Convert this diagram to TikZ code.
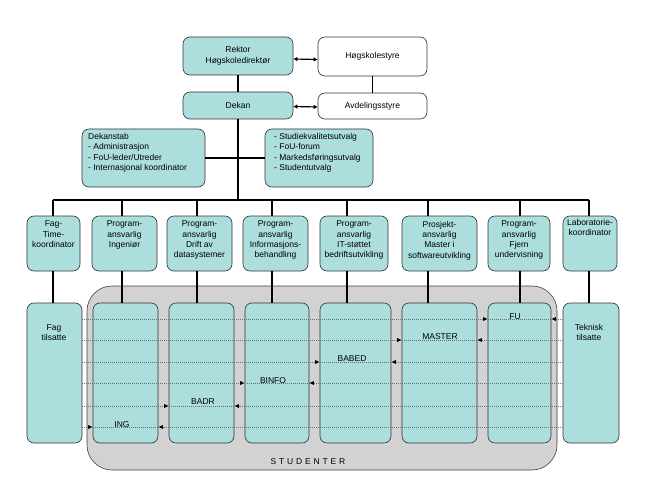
\documentclass[tikz,border=0pt]{standalone}
\usepackage{fontspec}
\setmainfont{Liberation Sans}
\usetikzlibrary{arrows.meta}
\definecolor{cyanfill}{RGB}{172,222,222}
\definecolor{stud}{RGB}{210,210,210}
\definecolor{lvlgray}{RGB}{110,110,110}
\begin{document}
\begin{tikzpicture}[x=1pt,y=-1pt,
  font=\fontsize{8.5}{10.4}\selectfont,
  box/.style={draw=black!80, line width=0.6pt, rounded corners=7pt, fill=cyanfill, inner sep=0pt},
  wbox/.style={box, fill=white},
  conn/.style={line width=1.8pt, black},
  dbl/.style={line width=1.2pt, {Latex[length=4pt,width=4.5pt]}-{Latex[length=4pt,width=4.5pt]}},
  txt/.style={align=center, inner sep=0pt},
  ltxt/.style={align=left, inner sep=0pt, anchor=north west},
  lvl/.style={draw=lvlgray, line width=0.6pt, dash pattern=on 1pt off 1pt},
  tipr/.style={lvl, -{Latex[length=4.5pt,width=4pt,color=black]}}
]
\useasboundingbox (0,0) rectangle (649,487);

% top level
\node[box, txt, minimum width=110pt, minimum height=38pt] (rektor) at (238,56) {Rektor\\Høgskoledirektør};
\node[wbox, txt, minimum width=109pt, minimum height=39pt] (hstyre) at (372.5,56.5) {Høgskolestyre};
\node[box, txt, minimum width=110pt, minimum height=27pt] (dekan) at (238,105.5) {Dekan};
\node[wbox, txt, minimum width=109pt, minimum height=26pt] (avd) at (372.5,106) {Avdelingsstyre};

\draw[conn] (rektor) -- (dekan);
\draw[conn] (hstyre) -- (avd);
\draw[dbl] ([yshift=-3pt]rektor.east) -- ([yshift=-3pt]hstyre.west);
\draw[dbl] ([yshift=-1pt]dekan.east) -- ([yshift=-1pt]avd.west);

% staff boxes
\node[box, minimum width=123pt, minimum height=58pt] (dstab) at (143.5,158) {};
\node[ltxt] (dstabt) at (88,133) {Dekanstab\\- Administrasjon\\- FoU-leder/Utreder\\- Internasjonal koordinator};
\node[box, minimum width=108pt, minimum height=58pt] (utv) at (319,158) {};
\node[ltxt] (utvt) at (274,133) {- Studiekvalitetsutvalg\\- FoU-forum\\- Markedsføringsutvalg\\- Studentutvalg};

\coordinate (bus) at (237,200);
\draw[conn] (dekan.south) -- (dekan.south |- bus);
\draw[conn] (dstab.east) -- (utv.west);

% second row boxes
\node[box, minimum width=53pt, minimum height=55pt] (t1) at (53.5,243.5) {};
\node[box, minimum width=65pt, minimum height=55pt] (t2) at (124.5,243.5) {};
\node[box, minimum width=65pt, minimum height=55pt] (t3) at (199.5,243.5) {};
\node[box, minimum width=65pt, minimum height=55pt] (t4) at (275.5,243.5) {};
\node[box, minimum width=68pt, minimum height=55pt] (t5) at (354,243.5) {};
\node[box, minimum width=75pt, minimum height=55pt] (t6) at (439.5,243.5) {};
\node[box, minimum width=62pt, minimum height=55pt] (t7) at (519,243.5) {};
\node[box, minimum width=54pt, minimum height=55pt] (t8) at (590,243.5) {};
\node[txt, anchor=north] (t1t) at ([yshift=-5pt]t1.north) {Fag-\\Time-\\koordinator};
\node[txt, anchor=north] (t2t) at ([yshift=-5pt]t2.north) {Program-\\ansvarlig\\Ingeniør};
\node[txt, anchor=north] (t3t) at ([yshift=-5pt]t3.north) {Program-\\ansvarlig\\Drift av\\datasystemer};
\node[txt, anchor=north] (t4t) at ([yshift=-5pt]t4.north) {Program-\\ansvarlig\\Informasjons-\\behandling};
\node[txt, anchor=north] (t5t) at ([yshift=-5pt]t5.north) {Program-\\ansvarlig\\IT-støttet\\bedriftsutvikling};
\node[txt, anchor=north] (t6t) at ([yshift=-5pt]t6.north) {Prosjekt-\\ansvarlig\\Master i\\softwareutvikling};
\node[txt, anchor=north] (t7t) at ([yshift=-5pt]t7.north) {Program-\\ansvarlig\\Fjern\\undervisning};
\node[txt, anchor=north] (t8t) at ([yshift=-3pt]t8.north) {Laboratorie-\\koordinator};

% students area
\node[draw=black!75, line width=0.6pt, fill=stud, rounded corners=25pt, minimum width=470pt, minimum height=184pt, inner sep=0pt] (studs) at (322,378) {};
\node[txt] (studt) at (308,462) {S\,\,T\,\,U\,\,D\,\,E\,\,N\,\,T\,\,E\,\,R};

% bottom boxes
\node[box, minimum width=55pt, minimum height=140pt] (fagt) at (54.5,373) {};
\node[box, minimum width=65pt, minimum height=140pt] (ing) at (125.5,373) {};
\node[box, minimum width=65pt, minimum height=140pt] (badr) at (201.5,373) {};
\node[box, minimum width=64pt, minimum height=140pt] (binfo) at (277,373) {};
\node[box, minimum width=71pt, minimum height=140pt] (babed) at (355.5,373) {};
\node[box, minimum width=75pt, minimum height=140pt] (master) at (439.5,373) {};
\node[box, minimum width=63pt, minimum height=140pt] (fu) at (519.5,373) {};
\node[box, minimum width=56pt, minimum height=140pt] (tekn) at (591,373) {};

% bus and drops
\coordinate (d1) at (53,200);
\coordinate (d2) at (122,200);
\coordinate (d3) at (197,200);
\coordinate (d4) at (272,200);
\coordinate (d5) at (347,200);
\coordinate (d6) at (428,200);
\coordinate (d7) at (520,200);
\coordinate (d8) at (589,200);
\draw[conn] (d1) -- (d8);
\draw[conn] (d1) -- (d1 |- t1.north);
\draw[conn] (d2) -- (d2 |- t2.north);
\draw[conn] (d3) -- (d3 |- t3.north);
\draw[conn] (d4) -- (d4 |- t4.north);
\draw[conn] (d5) -- (d5 |- t5.north);
\draw[conn] (d6) -- (d6 |- t6.north);
\draw[conn] (d7) -- (d7 |- t7.north);
\draw[conn] (d8) -- (d8 |- t8.north);
\draw[conn] (d1 |- t1.south) -- (d1 |- fagt.north);
\draw[conn] (d2 |- t2.south) -- (d2 |- ing.north);
\draw[conn] (d3 |- t3.south) -- (d3 |- badr.north);
\draw[conn] (d4 |- t4.south) -- (d4 |- binfo.north);
\draw[conn] (d5 |- t5.south) -- (d5 |- babed.north);
\draw[conn] (d6 |- t6.south) -- (d6 |- master.north);
\draw[conn] (d7 |- t7.south) -- (d7 |- fu.north);
\draw[conn] (d8 |- t8.south) -- (d8 |- tekn.north);

% staff lines
\coordinate (yfu) at (0,319);
\coordinate (yma) at (0,340);
\coordinate (yba) at (0,362);
\coordinate (ybi) at (0,383);
\coordinate (ybd) at (0,406);
\coordinate (yin) at (0,427);
\foreach \b/\y in {fu/yfu, master/yma, babed/yba, binfo/ybi, badr/ybd, ing/yin}{
  \draw[tipr] (fagt.east |- \y) -- (\b.west |- \y);
  \draw[lvl] (\b.west |- \y) -- (\b.east |- \y);
  \draw[tipr] (tekn.west |- \y) -- (\b.east |- \y);
}

% bottom texts
\node[txt] (fagtt) at (54,332.5) {Fag\\tilsatte};
\node[txt] (tekntt) at (589,332.5) {Teknisk\\tilsatte};
\node[txt] (ingt) at (122,425) {ING};
\node[txt] (badrt) at (203,402) {BADR};
\node[txt] (binfot) at (273,381) {BINFO};
\node[txt] (babedt) at (352,359) {BABED};
\node[txt] (mastert) at (440,337) {MASTER};
\node[txt] (fut) at (515,317) {FU};
\end{tikzpicture}
\end{document}
